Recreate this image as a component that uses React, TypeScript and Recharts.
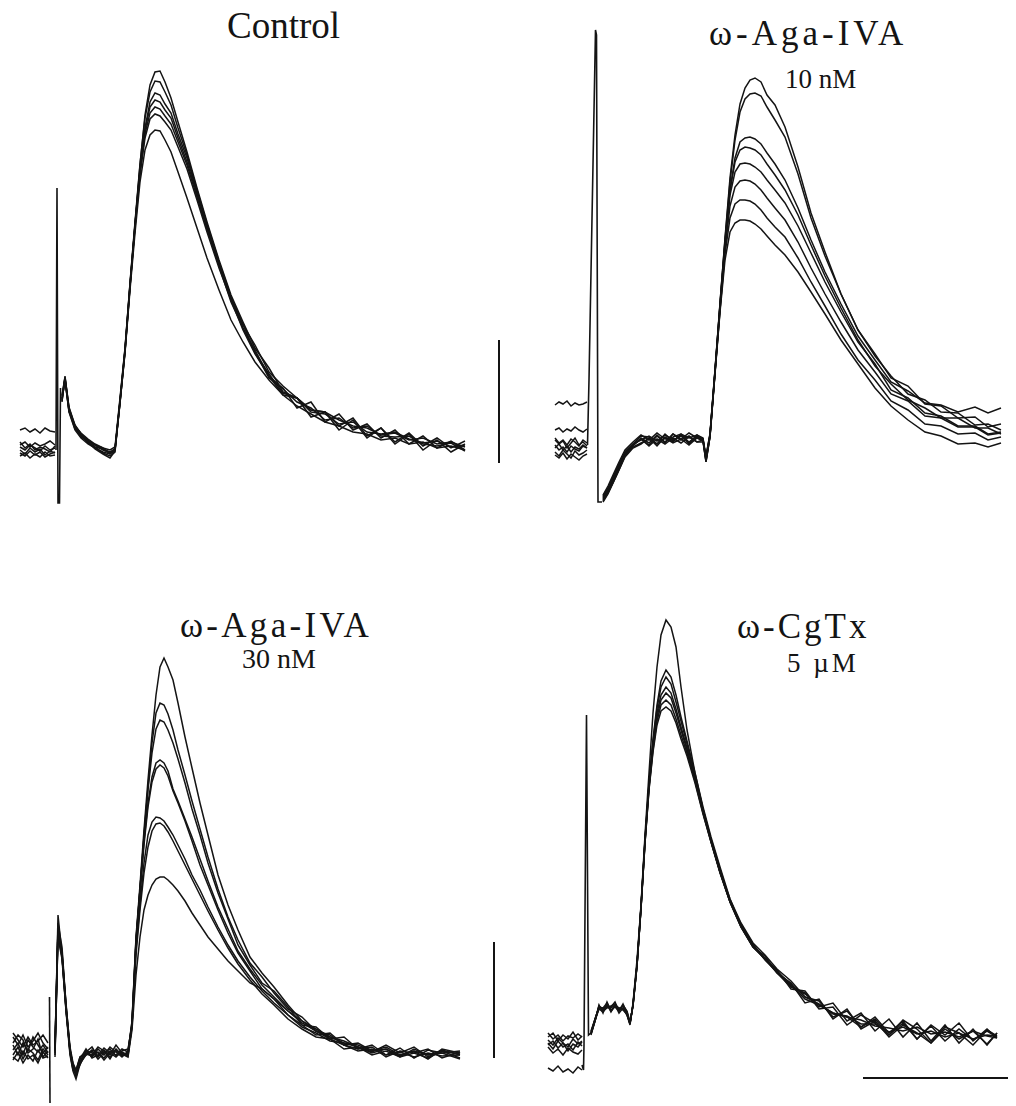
import { Line, LineChart, ReferenceLine, XAxis, YAxis } from "recharts";

// Units: t = sweep time (scale units), v = amplitude above the late baseline.

// ---- Control ----
const controlPreTime = [5, 10, 15, 20, 25, 30, 35, 40];
const controlPostTime = [47, 50, 54, 60, 66, 73, 80, 88, 95, 100, 105, 110, 115, 120, 125, 130, 135, 140, 145, 150, 156, 163, 172, 182, 192, 204, 216, 228, 240, 254, 268, 282, 296, 310, 324, 338, 352, 366, 380, 394, 408, 422, 436, 450];
const controlPre = [
  [3, 0, 5, 2, -1, 4, 0, 2],
  [-3, -6, -1, -5, -2, -7, -4, -2],
  [20, 22, 18, 21, 17, 22, 19, 18],
  [5, 8, 3, 7, 4, 6, 9, 5],
  [-6, -3, -8, -4, -7, -2, -6, -5],
  [0, -4, 2, -2, 1, -5, -1, -3],
  [8, 2, 6, 0, 3, 1, -2, 4],
];
const controlPost = [
  [50, 70, 38, 20, 12, 6, 2, -2, -4, 0, 48, 98, 163, 225, 285, 335, 365, 378, 379, 368, 352, 328, 298, 262, 228, 190, 155, 128, 102, 82, 58, 52, 40, 38, 24, 32, 14, 22, 8, 17, 4, 12, 2, 9],
  [54, 72, 42, 25, 16, 10, 5, 2, 0, 3, 52, 102, 167, 228, 286, 332, 358, 369, 368, 358, 345, 322, 295, 260, 226, 188, 153, 125, 105, 78, 64, 52, 40, 38, 30, 24, 22, 15, 17, 10, 12, 6, 8, 3],
  [48, 74, 41, 22, 14, 9, 3, -3, -6, -2, 47, 99, 164, 224, 280, 322, 348, 357, 355, 346, 337, 316, 292, 258, 224, 188, 152, 122, 98, 72, 62, 42, 48, 28, 36, 20, 26, 12, 20, 6, 14, 2, 9, 0],
  [52, 71, 39, 21, 15, 7, 3, 1, -2, 1, 49, 101, 166, 226, 281, 320, 343, 350, 348, 340, 332, 312, 288, 256, 223, 186, 152, 126, 97, 76, 57, 52, 38, 36, 26, 28, 18, 16, 18, 11, 7, 9, 3, 5],
  [55, 73, 43, 24, 17, 11, 6, 2, -4, 0, 50, 100, 165, 224, 278, 316, 337, 343, 341, 334, 326, 308, 285, 253, 221, 184, 148, 122, 100, 74, 61, 48, 42, 30, 32, 22, 24, 14, 13, 14, 6, 4, 7, -1],
  [49, 72, 40, 23, 13, 8, 1, -4, -8, -1, 48, 99, 163, 222, 275, 312, 331, 336, 334, 328, 320, 303, 281, 250, 218, 182, 150, 120, 96, 74, 55, 52, 33, 38, 20, 30, 12, 22, 6, 16, 0, 10, -2, 6],
  [51, 70, 39, 24, 16, 9, 5, 0, -3, 1, 47, 97, 160, 217, 268, 300, 315, 320, 319, 310, 298, 278, 252, 222, 192, 160, 130, 108, 88, 70, 55, 44, 36, 28, 24, 18, 16, 10, 12, 6, 8, 2, 4, 0],
];
const controlArtifactTime = [41, 42, 43, 44.5, 45.5];
const controlArtifactValue = [0, 262, -53, -53, 62];

// ---- ω-Aga-IVA 10 nM ----
const aga10PreTime = [10, 14, 18, 22, 26, 30, 34, 38, 42];
const aga10PostTime = [58, 63, 68, 74, 80, 88, 96, 104, 112, 120, 128, 136, 144, 152, 158, 161, 165, 170, 175, 180, 185, 190, 195, 200, 205, 210, 216, 222, 230, 240, 253, 266, 280, 296, 313, 330, 346, 363, 380, 396, 413, 430, 443, 456];
const aga10Pre = [
  [2, -3, 0, -5, 1, -2, -6, 0, -3],
  [10, 12, 8, 11, 9, 13, 10, 8, 11],
  [35, 38, 36, 39, 34, 37, 35, 36, 38],
  [-8, -4, -10, -6, -12, -7, -9, -5, -8],
  [-12, -16, -10, -14, -18, -11, -15, -13, -10],
  [0, -4, -1, -8, -3, 2, -5, -2, -6],
  [-15, -18, -13, -19, -14, -17, -20, -16, -14],
  [-5, -10, -7, -12, -6, -9, -11, -6, -8],
];
const aga10Post = [
  [-60, -52, -42, -28, -15, -6, 2, -3, 5, -2, 6, 1, 7, 2, 1, -20, 4, 68, 136, 202, 262, 305, 336, 352, 360, 362, 358, 345, 335, 313, 273, 227, 188, 146, 110, 84, 64, 46, 40, 28, 27, 15, 16, 10],
  [-56, -48, -37, -24, -12, -4, 4, 3, -4, 6, -1, 5, -2, 4, -1, -16, 6, 70, 137, 200, 258, 300, 328, 341, 346, 347, 344, 333, 320, 303, 266, 222, 184, 146, 110, 86, 62, 54, 36, 34, 22, 23, 13, 16],
  [-58, -50, -40, -26, -13, -5, 1, -5, 4, -3, 6, 0, 4, -2, 0, -22, 3, 67, 133, 196, 250, 282, 298, 302, 303, 301, 296, 287, 276, 260, 232, 200, 168, 136, 104, 80, 58, 49, 37, 35, 28, 33, 27, 32],
  [-62, -54, -43, -30, -17, -8, -4, 2, -6, 3, -2, 6, -4, 3, 0, -18, 5, 69, 135, 198, 250, 278, 290, 293, 292, 290, 285, 276, 265, 250, 225, 195, 164, 132, 100, 74, 56, 40, 32, 22, 22, 12, 12, 6],
  [-55, -46, -35, -22, -10, -2, 5, 0, 7, 1, 3, 6, 2, 5, 2, -17, 6, 70, 134, 195, 245, 268, 276, 277, 276, 273, 268, 260, 250, 237, 214, 187, 158, 128, 98, 76, 50, 42, 27, 24, 14, 14, 6, 8],
  [-59, -51, -40, -27, -14, -5, 1, -6, 1, -4, 2, -3, 3, -2, -2, -21, 4, 67, 130, 190, 234, 253, 259, 260, 259, 256, 250, 242, 232, 220, 198, 172, 146, 118, 90, 68, 46, 39, 24, 22, 13, 13, 5, 7],
  [-57, -49, -38, -25, -12, -4, 0, 4, -1, 5, 0, 4, -3, 5, 1, -19, 5, 68, 130, 186, 222, 236, 240, 240, 239, 236, 230, 222, 213, 203, 182, 158, 134, 106, 80, 60, 39, 30, 16, 14, 6, 7, 0, 3],
  [-61, -53, -43, -30, -16, -7, -3, 1, -4, 2, -3, 1, -5, 2, -1, -22, 3, 66, 128, 180, 208, 217, 220, 220, 219, 216, 211, 204, 195, 185, 168, 148, 126, 100, 76, 52, 34, 20, 8, 4, -4, -3, -7, -3],
];
const aga10ArtifactTime = [42.5, 44, 50.5, 51.5, 53, 57];
const aga10ArtifactValue = [-5, 60, 410, 405, -62, -62];

// ---- ω-Aga-IVA 30 nM ----
const aga30PreTime = [3, 8, 13, 18, 23, 28, 33, 38];
const aga30PostTime = [45, 48, 52, 56, 60, 63, 66, 70, 76, 82, 88, 94, 100, 106, 112, 118, 122, 126, 130, 134, 138, 142, 146, 150, 154, 158, 163, 168, 175, 182, 190, 198, 208, 218, 228, 240, 252, 264, 278, 292, 306, 320, 334, 348, 362, 376, 390, 404, 418, 432, 450];
const aga30Pre = [
  [5, 12, 0, 15, 8, 3, 10, 2],
  [18, 10, 20, 8, 14, 22, 12, 6],
  [-5, 3, -8, 0, -6, 5, -3, -1],
  [10, 0, 12, 4, 18, 10, 2, 8],
  [-2, -6, 4, -4, 0, -8, 3, -3],
  [22, 15, 8, 18, 10, 14, 20, 12],
  [0, 8, -4, 6, 2, -5, 6, 0],
  [12, 20, 15, 2, 6, 16, -2, 4],
];
const aga30Post = [
  [4, 140, 100, 45, 5, -12, -20, -8, 0, 5, 2, -3, 4, 0, 6, 3, 34, 118, 170, 225, 275, 320, 360, 388, 397, 388, 375, 352, 318, 287, 252, 220, 180, 150, 125, 98, 82, 68, 50, 34, 26, 18, 14, 8, 3, 10, 2, 8, -2, 5, 0],
  [8, 132, 108, 50, 8, -8, -15, -2, 3, 8, -2, 5, 0, 10, 2, -1, 30, 112, 165, 220, 268, 312, 342, 352, 350, 341, 325, 305, 280, 254, 226, 198, 166, 138, 115, 92, 78, 62, 46, 38, 24, 20, 10, 12, 4, 6, -2, 6, 0, 4, -3],
  [-2, 125, 104, 48, 2, -15, -18, -10, 4, -2, 6, 0, 8, 3, -2, 4, 31, 114, 166, 218, 265, 302, 326, 335, 333, 325, 312, 296, 272, 246, 220, 192, 162, 136, 110, 90, 72, 64, 48, 30, 28, 16, 18, 6, 10, 0, 7, -3, 5, 2, 4],
  [6, 128, 102, 52, 6, -10, -22, -6, 2, 0, 8, 4, -4, 6, 0, 2, 33, 116, 166, 214, 252, 278, 292, 295, 292, 284, 266, 254, 236, 218, 196, 174, 148, 126, 104, 86, 70, 58, 44, 32, 24, 18, 12, 10, 4, 8, 0, 4, -4, 6, 2],
  [0, 120, 98, 46, 3, -14, -17, -4, 6, -3, 0, 7, 2, -2, 4, 6, 30, 112, 162, 210, 248, 273, 286, 290, 287, 279, 264, 252, 234, 214, 190, 170, 145, 122, 102, 84, 66, 56, 40, 30, 20, 22, 10, 6, 8, -2, 4, 2, 6, -3, 3],
  [10, 126, 100, 50, 4, -9, -16, -2, 0, 4, -4, 2, 6, -1, 3, 0, 30, 106, 150, 192, 220, 233, 238, 237, 234, 228, 220, 210, 196, 180, 165, 148, 128, 110, 94, 78, 64, 52, 40, 28, 22, 14, 12, 8, 2, 6, -1, 4, 0, 2, -4],
  [2, 118, 96, 44, 0, -16, -24, -9, 1, -1, 3, -5, 2, 5, -1, 1, 28, 100, 145, 182, 208, 224, 231, 232, 229, 223, 214, 204, 190, 176, 160, 144, 125, 107, 91, 75, 61, 50, 36, 26, 18, 16, 6, 8, 0, 4, -2, 2, -3, 4, 1],
  [5, 124, 99, 47, 5, -11, -19, -7, 4, 2, -1, 3, -2, 4, 1, -2, 25, 80, 118, 145, 160, 170, 176, 178, 178, 175, 170, 164, 154, 142, 130, 118, 106, 94, 84, 72, 66, 56, 44, 34, 24, 16, 10, 4, 6, 0, 3, -2, 2, -1, 0],
];
const aga30ArtifactTime = [39.5, 40];
const aga30ArtifactValue = [58, -48];

// ---- ω-CgTx 5 µM ----
const cgtxPreTime = [3, 8, 13, 18, 23, 28, 33, 37];
const cgtxPostTime = [46, 50, 54, 58, 62, 66, 70, 74, 78, 82, 85, 88, 92, 96, 100, 104, 108, 112, 116, 121, 126, 131, 136, 142, 150, 158, 166, 175, 185, 196, 208, 220, 232, 246, 260, 274, 288, 302, 316, 330, 344, 358, 372, 386, 400, 414, 428, 442, 452];
const cgtxPre = [
  [-5, -10, -3, -8, -12, -4, -9, -6],
  [2, -4, 0, -6, -1, -3, 1, -2],
  [-8, -14, -6, -12, -9, -15, -7, -11],
  [-12, -18, -14, -20, -13, -17, -19, -15],
  [-2, 2, -6, 0, -4, 3, -5, -1],
  [-10, -6, -13, -8, -16, -9, -12, -7],
  [-33, -36, -31, -37, -34, -38, -32, -35],
];
const cgtxPost = [
  [0, 14, 30, 22, 33, 24, 29, 27, 26, 20, 10, 32, 75, 130, 200, 262, 322, 368, 400, 415, 408, 388, 348, 305, 262, 226, 194, 163, 133, 108, 88, 76, 62, 48, 42, 28, 32, 14, 22, 4, 16, -2, 12, -6, 10, -8, 6, -10, 2],
  [4, 16, 27, 26, 29, 28, 33, 24, 30, 24, 13, 29, 69, 127, 196, 252, 296, 330, 354, 365, 358, 340, 318, 294, 262, 228, 198, 168, 136, 112, 92, 80, 66, 54, 38, 34, 18, 24, 8, 18, 2, 14, -4, 10, 0, 12, -6, 6, -3],
  [1, 14, 29, 25, 31, 23, 30, 26, 29, 21, 11, 31, 71, 129, 195, 251, 293, 327, 348, 358, 351, 333, 314, 291, 259, 226, 196, 166, 134, 111, 90, 76, 65, 46, 44, 26, 28, 10, 20, 12, 0, 15, 6, -8, 8, 2, -10, 5, -1],
  [3, 15, 26, 23, 28, 27, 30, 22, 27, 23, 12, 30, 70, 128, 194, 249, 290, 322, 340, 348, 342, 326, 308, 287, 256, 224, 195, 163, 133, 108, 88, 79, 62, 52, 32, 36, 16, 26, 6, 14, -2, 10, 2, -8, 6, -4, 4, -9, 2],
  [2, 16, 28, 27, 32, 25, 28, 24, 31, 22, 12, 29, 70, 127, 193, 248, 288, 318, 335, 342, 337, 322, 305, 285, 255, 223, 194, 164, 136, 109, 91, 75, 63, 49, 41, 30, 22, 18, 15, 9, 7, 4, 8, 1, 3, -2, 4, -1, -3],
  [1, 15, 29, 24, 27, 29, 31, 26, 27, 20, 11, 30, 69, 126, 192, 246, 285, 314, 330, 335, 330, 316, 300, 282, 254, 222, 193, 163, 134, 110, 89, 77, 64, 50, 36, 30, 22, 18, 8, 16, 0, 12, -4, 9, -6, 6, -5, 4, -2],
  [2, 14, 27, 25, 30, 24, 29, 27, 25, 21, 12, 30, 70, 127, 192, 245, 283, 310, 324, 328, 324, 312, 296, 279, 252, 221, 193, 162, 133, 108, 88, 76, 63, 51, 38, 31, 21, 19, 11, 11, 3, 8, 1, 4, -2, 2, -4, 0, -1],
];
const cgtxArtifactTime = [37, 38.5, 39, 41.5, 43.5, 46];
const cgtxArtifactValue = [-30, -35, -10, 320, 0, 2];

// ---- layout ----
const INK = "#141414";
const FONT = "'Liberation Serif', 'Times New Roman', serif";

type Seg = [{ x: number; y: number }, { x: number; y: number }];

type Panel = {
  left: number;
  baseline: number;
  width: number;
  top: number;
  bottom: number;
  gap: number;
  preTime: number[];
  postTime: number[];
  pre: number[][];
  post: number[][];
  artifactTime: number[];
  artifactValue: number[];
  scaleBar?: Seg;
};

const panels: Panel[] = [
  {
    left: 15, baseline: 450, width: 500, top: 440, bottom: 80, gap: 44,
    preTime: controlPreTime, postTime: controlPostTime, pre: controlPre, post: controlPost,
    artifactTime: controlArtifactTime, artifactValue: controlArtifactValue,
    scaleBar: [{ x: 484, y: -13 }, { x: 484, y: 110 }],
  },
  {
    left: 545, baseline: 440, width: 465, top: 430, bottom: 80, gap: 50,
    preTime: aga10PreTime, postTime: aga10PostTime, pre: aga10Pre, post: aga10Post,
    artifactTime: aga10ArtifactTime, artifactValue: aga10ArtifactValue,
  },
  {
    left: 10, baseline: 1055, width: 500, top: 420, bottom: 60, gap: 41,
    preTime: aga30PreTime, postTime: aga30PostTime, pre: aga30Pre, post: aga30Post,
    artifactTime: aga30ArtifactTime, artifactValue: aga30ArtifactValue,
    scaleBar: [{ x: 484, y: -3 }, { x: 484, y: 113 }],
  },
  {
    left: 545, baseline: 1035, width: 470, top: 430, bottom: 60, gap: 42,
    preTime: cgtxPreTime, postTime: cgtxPostTime, pre: cgtxPre, post: cgtxPost,
    artifactTime: cgtxArtifactTime, artifactValue: cgtxArtifactValue,
    scaleBar: [{ x: 318, y: -43 }, { x: 463, y: -43 }],
  },
];

const toPoints = (time: number[], values: (number | null)[]) =>
  time.map((t, i) => ({ t, v: values[i] }));

const TracePanel = ({ p }: { p: Panel }) => (
  <div style={{ position: "absolute", left: p.left, top: p.baseline - p.top }}>
    <LineChart width={p.width} height={p.top + p.bottom} margin={{ top: 0, right: 0, bottom: 0, left: 0 }}>
      <XAxis type="number" dataKey="t" domain={[0, p.width]} hide allowDataOverflow />
      <YAxis type="number" domain={[-p.bottom, p.top]} hide allowDataOverflow />
      {p.pre.map((pre, i) => (
        <Line
          key={i}
          data={[...toPoints(p.preTime, pre), { t: p.gap, v: null }, ...toPoints(p.postTime, p.post[i])]}
          dataKey="v"
          type="linear"
          stroke={INK}
          strokeWidth={1.5}
          dot={false}
          activeDot={false}
          connectNulls={false}
          isAnimationActive={false}
        />
      ))}
      <Line
        data={toPoints(p.artifactTime, p.artifactValue)}
        dataKey="v"
        type="linear"
        stroke={INK}
        strokeWidth={1.6}
        dot={false}
        activeDot={false}
        isAnimationActive={false}
      />
      {p.scaleBar && (
        <ReferenceLine segment={p.scaleBar} stroke={INK} strokeWidth={2} ifOverflow="visible" />
      )}
    </LineChart>
  </div>
);

const labels = [
  { text: "Control", x: 227, y: 38, size: 37, spacing: 0 },
  { text: "ω-Aga-IVA", x: 709, y: 45, size: 35, spacing: 4 },
  { text: "10 nM", x: 785, y: 88, size: 27, spacing: 0 },
  { text: "ω-Aga-IVA", x: 180, y: 637, size: 35, spacing: 3.3 },
  { text: "30 nM", x: 242, y: 668, size: 28, spacing: 0 },
  { text: "ω-CgTx", x: 737, y: 638, size: 35, spacing: 3 },
  { text: "5 µM", x: 787, y: 672, size: 27, spacing: 3 },
];

export default function App() {
  return (
    <div style={{ position: "absolute", left: 0, top: 0, width: 1016, height: 1106, overflow: "hidden", background: "#fff" }}>
      {panels.map((p, i) => (
        <TracePanel key={i} p={p} />
      ))}
      <svg width={1016} height={1106} style={{ position: "absolute", left: 0, top: 0, pointerEvents: "none" }}>
        {labels.map((l) => (
          <text key={l.text + l.y} x={l.x} y={l.y} fontFamily={FONT} fontSize={l.size} letterSpacing={l.spacing} fill={INK}>
            {l.text}
          </text>
        ))}
      </svg>
    </div>
  );
}
